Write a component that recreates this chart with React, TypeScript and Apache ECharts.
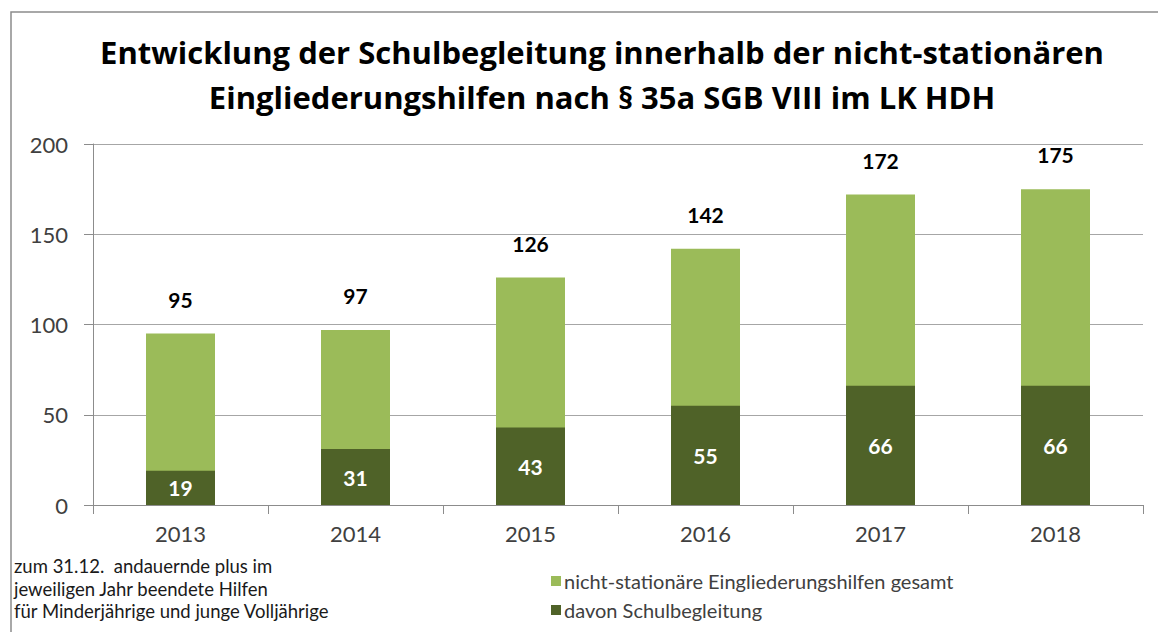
import React, { useEffect, useRef } from "react";
import * as echarts from "echarts";

const years = ["2013", "2014", "2015", "2016", "2017", "2018"];
const totalValues = [95, 97, 126, 142, 172, 175];
const schoolValues = [19, 31, 43, 55, 66, 66];
const yTicks = { min: 0, max: 200, interval: 50 };
const titleLines = [
  "Entwicklung der Schulbegleitung innerhalb der nicht-stationären",
  "Eingliederungshilfen nach § 35a SGB VIII im LK HDH",
];
const footnoteLines = [
  "zum 31.12.  andauernde plus im",
  "jeweiligen Jahr beendete Hilfen",
  "für Minderjährige und junge Volljährige",
];
const seriesNames = [
  "nicht-stationäre Eingliederungshilfen gesamt",
  "davon Schulbegleitung",
];

const FONT = "Lato";

export default function App() {
  const ref = useRef<HTMLDivElement>(null);
  useEffect(() => {
    document.body.style.margin = "0";
    const chart = echarts.init(ref.current!, undefined, { renderer: "svg" });
    chart.setOption({
      animation: false,
      backgroundColor: "#ffffff",
      textStyle: { fontFamily: FONT },
      title: {
        text: titleLines.join("\n"),
        left: 597,
        top: 24,
        textAlign: "center",
        textStyle: {
          fontFamily: "Open Sans",
          fontSize: 31,
          fontWeight: "bold",
          color: "#000000",
          lineHeight: 45,
        },
      },
      grid: { left: 93, right: 15, top: 144, bottom: 127 },
      legend: {
        orient: "vertical",
        left: 546,
        top: 566,
        itemWidth: 10,
        itemHeight: 10,
        itemGap: 9,
        icon: "rect",
        data: seriesNames,
        textStyle: { fontFamily: FONT, fontSize: 20, color: "#404040", padding: [0, 0, 0, -2] },
      },
      graphic: [
        {
          type: "rect",
          shape: { x: 11, y: 12, width: 1300, height: 800 },
          style: { fill: "none", stroke: "#8c8c8c", lineWidth: 1.5 },
          silent: true,
        },
        {
          type: "text",
          left: 14,
          top: 555,
          style: {
            text: footnoteLines.join("\n"),
            fontFamily: FONT,
            fontSize: 18.5,
            lineHeight: 22.5,
            fill: "#1a1a1a",
          },
        },
      ],
      xAxis: {
        type: "category",
        data: years,
        axisLine: { show: true, lineStyle: { color: "#8c8c8c", width: 1 } },
        axisTick: { show: true, length: 9, lineStyle: { color: "#8c8c8c" } },
        axisLabel: { fontFamily: FONT, fontSize: 22, color: "#404040", margin: 17 },
      },
      yAxis: {
        type: "value",
        min: yTicks.min,
        max: yTicks.max,
        interval: yTicks.interval,
        axisLine: { show: true, lineStyle: { color: "#8c8c8c", width: 1 } },
        axisTick: { show: true, length: 9, lineStyle: { color: "#8c8c8c" } },
        axisLabel: { fontFamily: FONT, fontSize: 22, color: "#404040", margin: 25 },
        splitLine: { show: true, lineStyle: { color: "#a6a6a6", width: 1 } },
      },
      series: [
        {
          name: seriesNames[0],
          type: "bar",
          data: totalValues,
          barWidth: 69,
          itemStyle: { color: "#9bbb59" },
          label: {
            show: true,
            position: "top",
            distance: 24,
            fontFamily: FONT,
            fontSize: 21,
            fontWeight: "bold",
            color: "#000000",
          },
        },
        {
          name: seriesNames[1],
          type: "bar",
          data: schoolValues,
          barWidth: 69,
          barGap: "-100%",
          itemStyle: { color: "#4f6228" },
          label: {
            show: true,
            position: "inside",
            fontFamily: FONT,
            fontSize: 21,
            fontWeight: "bold",
            color: "#ffffff",
          },
        },
      ],
    });
    return () => chart.dispose();
  }, []);
  return <div ref={ref} style={{ width: 1158, height: 632 }} />;
}
